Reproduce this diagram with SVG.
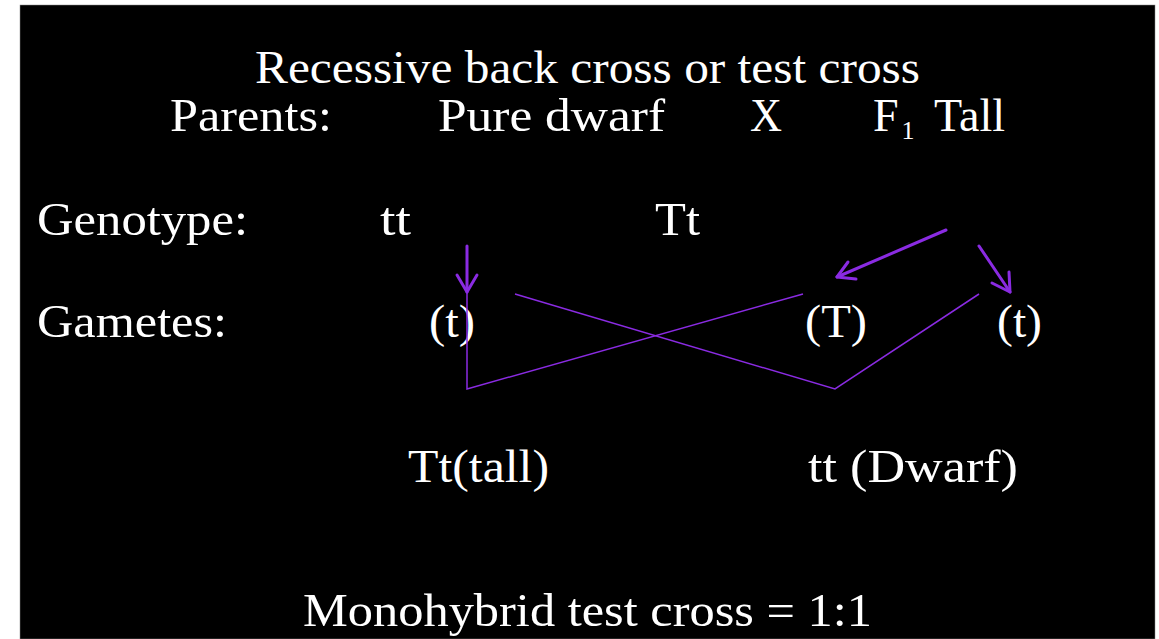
<svg xmlns="http://www.w3.org/2000/svg" width="1159" height="639" viewBox="0 0 1159 639">
<style>
.t{font-family:"Liberation Serif","Times New Roman",serif;font-size:46px;fill:#ffffff}
.thin{stroke:#8a2be2;stroke-width:1.5;fill:none}
.thick{stroke:#8a2be2;stroke-width:3;fill:none;stroke-linecap:round;stroke-linejoin:round}
</style>
<rect x="0" y="0" width="1159" height="639" fill="#ffffff"/>
<rect x="20" y="5" width="1135" height="634" fill="#000000" stroke="#888" stroke-width="0.5"/>
<g id="title">
<text class="t" x="255" y="83" textLength="665" lengthAdjust="spacingAndGlyphs">Recessive back cross or test cross</text>
</g>
<g id="parents">
<text class="t" x="170" y="131" textLength="162" lengthAdjust="spacingAndGlyphs">Parents:</text>
<text class="t" x="438" y="131" textLength="227" lengthAdjust="spacingAndGlyphs">Pure dwarf</text>
<text class="t" x="750" y="131" textLength="32" lengthAdjust="spacingAndGlyphs">X</text>
<text class="t" x="873" y="131">F<tspan font-size="26" dy="8" dx="3">1</tspan></text>
<text class="t" x="934" y="131" textLength="71" lengthAdjust="spacingAndGlyphs">Tall</text>
</g>
<g id="genotype">
<text class="t" x="37" y="235" textLength="211" lengthAdjust="spacingAndGlyphs">Genotype:</text>
<text class="t" x="380" y="235" textLength="31" lengthAdjust="spacingAndGlyphs">tt</text>
<text class="t" x="655" y="235" textLength="45" lengthAdjust="spacingAndGlyphs">Tt</text>
</g>
<g id="gametes">
<text class="t" x="37" y="337" textLength="190" lengthAdjust="spacingAndGlyphs">Gametes:</text>
<text class="t" x="429" y="337" textLength="46" lengthAdjust="spacingAndGlyphs">(t)</text>
<text class="t" x="805" y="337" textLength="62" lengthAdjust="spacingAndGlyphs">(T)</text>
<text class="t" x="997" y="337" textLength="45" lengthAdjust="spacingAndGlyphs">(t)</text>
</g>
<g id="offspring">
<text class="t" x="408" y="482" textLength="141" lengthAdjust="spacingAndGlyphs">Tt(tall)</text>
<text class="t" x="808" y="482" textLength="210" lengthAdjust="spacingAndGlyphs">tt (Dwarf)</text>
</g>
<g id="ratio">
<text class="t" x="303" y="626" textLength="569" lengthAdjust="spacingAndGlyphs">Monohybrid test cross = 1:1</text>
</g>
<g id="connectors">
<polyline class="thin" points="467,270 467,389 803,294"/>
<polyline class="thin" points="515,294 835,389 979,294"/>
<line class="thick" x1="467" y1="246" x2="467" y2="292" stroke-width="2.5"/>
<polyline class="thick" points="457,275 467,292 477,275" stroke-width="2.5"/>
<line class="thick" x1="946" y1="230" x2="837" y2="277"/>
<polyline class="thick" points="848,262 837,277 856,279"/>
<line class="thick" x1="979" y1="246" x2="1010" y2="292"/>
<polyline class="thick" points="992,283 1010,292 1009,272"/>
</g>
</svg>
